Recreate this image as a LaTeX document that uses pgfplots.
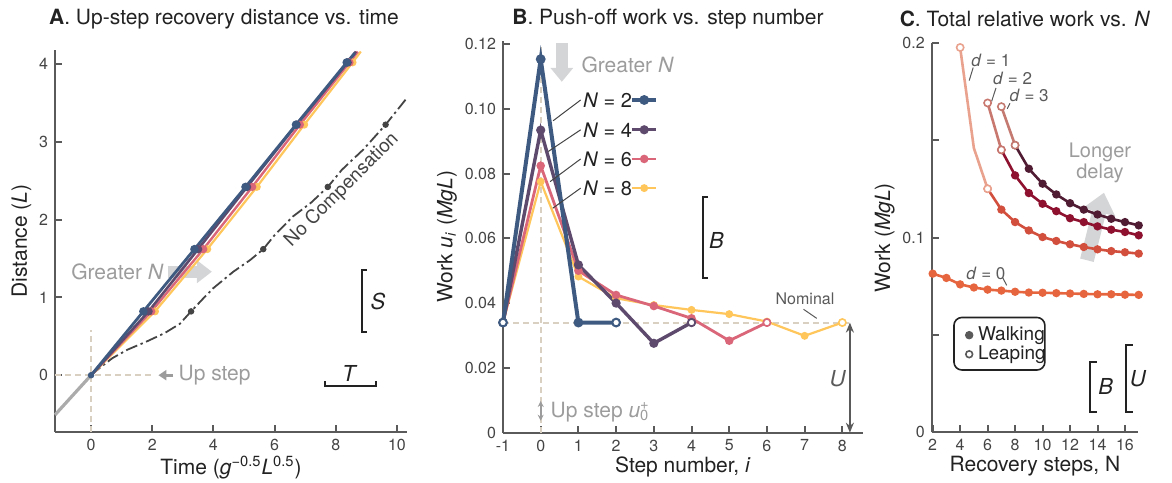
\documentclass[border=0pt]{standalone}
\usepackage{pgfplots}
\pgfplotsset{compat=1.18}
\usepackage{fontspec}
\setmainfont{TeX Gyre Heros}
\usetikzlibrary{arrows.meta}

\definecolor{axgray}{HTML}{5A5A5A}
\definecolor{tickgray}{HTML}{444444}
\definecolor{txt}{HTML}{222222}
\definecolor{anngray}{HTML}{9C9C9C}
\definecolor{arrgray}{HTML}{D4D5D7}
\definecolor{beige}{HTML}{D9D0C2}
\definecolor{lead}{HTML}{444444}
\definecolor{ctwo}{HTML}{3E5A80}
\definecolor{cfour}{HTML}{5E4A6D}
\definecolor{csix}{HTML}{D96779}
\definecolor{ceight}{HTML}{FEC65B}
\definecolor{nocomp}{HTML}{444444}
\definecolor{pre}{HTML}{ABABAB}
\definecolor{dzero}{HTML}{E6653F}
\definecolor{doneL}{HTML}{E9A28E}
\definecolor{doneW}{HTML}{D24E3D}
\definecolor{dtwoL}{HTML}{C9786F}
\definecolor{dtwoW}{HTML}{8E1230}
\definecolor{dthreeL}{HTML}{C47A70}
\definecolor{dthreeW}{HTML}{4F1C34}

\newcommand{\fsz}[1]{\fontsize{#1}{#1}\selectfont}

\pgfplotsset{
  rf/.style={
    scale only axis, anchor=south west,
    axis lines=left, axis line style={-, draw=axgray, line width=1pt},
    tick align=inside, major tick length=3.5pt,
    tick style={draw=axgray, line width=1pt},
    tick label style={font=\fsz{8}, text=tickgray},
    label style={font=\fsz{10.5}, text=txt},
    xlabel shift=-4pt, ylabel shift=-3pt,
    /pgf/number format/assume math mode=true,
    clip=false,
  },
  dot/.style={mark=*, mark size=1.4pt, mark options={solid}},
  open/.style={only marks, mark=*, mark size=1.8pt, mark options={fill=white, draw=#1, line width=0.8pt, solid}},
}

\begin{document}
\begin{tikzpicture}
\path[use as bounding box] (0,0) rectangle (586pt,241pt);

% ---------- A ----------
\begin{axis}[rf, at={(27.5pt,25pt)}, width=176pt, height=191pt,
  xmin=-1.18, xmax=10.33, ymin=-0.73, ymax=4.18,
  xtick={0,2,4,6,8,10}, ytick={0,1,2,3,4},
  xlabel={Time (\textit{g}\textsuperscript{−0.5}\textit{L}\textsuperscript{0.5})},
  ylabel={Distance (\textit{L})},
]
  \draw[beige, line width=1pt, dash pattern=on 3pt off 2pt] (axis cs:0,-0.73) -- (axis cs:0,0.58);
  \draw[beige, line width=1pt, dash pattern=on 3pt off 2pt] (axis cs:-1.18,0) -- (axis cs:2.06,0);
  \draw[anngray, line width=1.3pt, -{Triangle[length=4pt,width=5pt]}] (axis cs:2.68,0) -- (axis cs:2.2,0);
  \node[anchor=west, text=anngray, font=\fsz{10.5}, inner sep=1pt] at (axis cs:2.78,0) {Up step};
  \draw[arrgray, line width=6pt, -{Triangle[length=7.5pt,width=11pt]}] (axis cs:2.5,1.33) -- (axis cs:3.95,1.33);
  \node[anchor=east, text=anngray, font=\fsz{10.5}, inner sep=1pt] at (axis cs:2.45,1.33) {Greater \textit{N}};

  \addplot[pre, line width=1.6pt] coordinates {(-1.18,-0.51) (0,0)};
  \addplot[nocomp, line width=0.9pt, dash pattern=on 6pt off 1.8pt on 1.2pt off 1.8pt] coordinates {
    (0,0) (0.3,0.1) (0.7,0.22) (1.2,0.33) (1.8,0.43) (2.4,0.54) (2.9,0.66) (3.27,0.82)
    (3.7,1.0) (4.0,1.12) (4.65,1.33) (5.2,1.48) (5.63,1.62) (6.0,1.8) (6.6,2.04) (7.2,2.22)
    (7.74,2.42) (8.2,2.64) (8.9,2.9) (9.63,3.22) (10.3,3.55)};
  \addplot[only marks, nocomp, dot] coordinates {(3.27,0.82) (5.63,1.62) (7.74,2.42) (9.63,3.22)};
  \node[rotate=45, text=nocomp, font=\fsz{9.5}] at (axis cs:8.2,2.38) {No Compensation};

  \addplot[ceight, line width=1.1pt, dot, mark indices={2,3,4,5,6}] coordinates {
    (0,0) (2.09,0.82) (3.80,1.62) (5.42,2.42) (6.97,3.22) (8.55,4.02) (8.82,4.16)};
  \addplot[csix, line width=1.2pt, dot, mark indices={2,3,4,5,6}] coordinates {
    (0,0) (1.97,0.82) (3.67,1.62) (5.27,2.42) (6.83,3.22) (8.45,4.02) (8.72,4.16)};
  \addplot[cfour, line width=1.3pt, dot, mark indices={2,3,4,5,6}] coordinates {
    (0,0) (1.88,0.82) (3.50,1.62) (5.10,2.42) (6.72,3.22) (8.39,4.02) (8.66,4.16)};
  \addplot[ctwo, line width=1.4pt, dot, mark indices={2,3,4,5,6}] coordinates {
    (0,0) (1.71,0.82) (3.38,1.62) (5.05,2.42) (6.70,3.22) (8.36,4.02) (8.62,4.14)};
  \addplot[only marks, ctwo, dot] coordinates {(0,0)};

  \draw[txt, line width=1pt] (axis cs:9.02,1.35) -- (axis cs:8.85,1.35) -- (axis cs:8.85,0.55) -- (axis cs:9.02,0.55);
  \node[font=\fsz{11}, text=txt] at (axis cs:9.38,0.95) {\textit{S}};
  \draw[txt, line width=1pt] (axis cs:7.65,-0.08) -- (axis cs:7.65,-0.14) -- (axis cs:9.31,-0.14) -- (axis cs:9.31,-0.08);
  \node[font=\fsz{11}, text=txt] at (axis cs:8.46,0.02) {\textit{T}};
\end{axis}

% ---------- B ----------
\begin{axis}[rf, at={(251.5pt,24.65pt)}, width=179.85pt, height=196pt,
  xmin=-1, xmax=8.54, ymin=0, ymax=0.121,
  xtick={-1,0,1,2,3,4,5,6,7,8}, xticklabels={-1,0,1,2,3,4,5,6,7,8},
  ytick={0,0.02,0.04,0.06,0.08,0.10,0.12}, yticklabels={0,0.02,0.04,0.06,0.08,0.10,0.12},
  xlabel={Step number, \textit{i}},
  ylabel={Work \textit{u}\textsubscript{\textit{i}} (\textit{MgL})},
]
  \draw[beige, line width=1pt, dash pattern=on 3pt off 2pt] (axis cs:0,0) -- (axis cs:0,0.1197);
  \draw[beige, line width=1pt, dash pattern=on 3pt off 2pt] (axis cs:-1,0.034) -- (axis cs:8.28,0.034);
  \draw[arrgray, line width=6pt, -{Triangle[length=7pt,width=11pt]}] (axis cs:0.56,0.1202) -- (axis cs:0.56,0.1083);
  \node[anchor=west, text=anngray, font=\fsz{10.5}, inner sep=1pt] at (axis cs:1.02,0.1135) {Greater \textit{N}};

  \addplot[ceight, line width=1.1pt, dot] coordinates {
    (-1,0.034) (0,0.0775) (1,0.0482) (2,0.0415) (3,0.0394) (4,0.0379) (5,0.0366) (6,0.0343) (7,0.0299) (8,0.034)};
  \addplot[csix, line width=1.4pt, dot] coordinates {
    (-1,0.034) (0,0.0824) (1,0.050) (2,0.0425) (3,0.0391) (4,0.0353) (5,0.0284) (6,0.034)};
  \addplot[cfour, line width=1.7pt, dot] coordinates {
    (-1,0.034) (0,0.0934) (1,0.0518) (2,0.040) (3,0.0276) (4,0.034)};
  \addplot[ctwo, line width=2pt, dot] coordinates {
    (-1,0.034) (0,0.1153) (1,0.034) (2,0.034)};
  \addplot[open=ceight] coordinates {(8,0.034)};
  \addplot[open=csix] coordinates {(6,0.034)};
  \addplot[open=cfour] coordinates {(4,0.034)};
  \addplot[open=ctwo] coordinates {(2,0.034) (-1,0.034)};

  % legend
  \addplot[ctwo, line width=2pt, dot, mark indices={2}] coordinates {(2.42,0.1027) (2.745,0.1027) (3.07,0.1027)};
  \addplot[cfour, line width=1.7pt, dot, mark indices={2}] coordinates {(2.42,0.0935) (2.745,0.0935) (3.07,0.0935)};
  \addplot[csix, line width=1.4pt, dot, mark indices={2}] coordinates {(2.42,0.0845) (2.745,0.0845) (3.07,0.0845)};
  \addplot[ceight, line width=1.1pt, dot, mark indices={2}] coordinates {(2.42,0.0755) (2.745,0.0755) (3.07,0.0755)};
  \node[anchor=west, font=\fsz{10}, text=txt, inner sep=1pt] at (axis cs:1.06,0.1027) {\textit{N} = 2};
  \node[anchor=west, font=\fsz{10}, text=txt, inner sep=1pt] at (axis cs:1.06,0.0935) {\textit{N} = 4};
  \node[anchor=west, font=\fsz{10}, text=txt, inner sep=1pt] at (axis cs:1.06,0.0845) {\textit{N} = 6};
  \node[anchor=west, font=\fsz{10}, text=txt, inner sep=1pt] at (axis cs:1.06,0.0755) {\textit{N} = 8};
  \draw[lead, line width=0.5pt] (axis cs:0.33,0.0963) -- (axis cs:1.06,0.1027);
  \draw[lead, line width=0.5pt] (axis cs:0.20,0.0868) -- (axis cs:1.06,0.0935);
  \draw[lead, line width=0.5pt] (axis cs:0.25,0.0775) -- (axis cs:1.06,0.0845);
  \draw[lead, line width=0.5pt] (axis cs:0.32,0.0693) -- (axis cs:1.06,0.0755);

  \node[text=axgray, font=\fsz{8}] at (axis cs:7.01,0.0412) {Nominal};
  \draw[axgray, line width=0.5pt] (axis cs:6.97,0.0381) -- (axis cs:7.32,0.0353);

  \draw[txt, line width=1pt] (axis cs:4.44,0.0727) -- (axis cs:4.31,0.0727) -- (axis cs:4.31,0.0477) -- (axis cs:4.44,0.0477);
  \node[font=\fsz{11}, text=txt] at (axis cs:4.66,0.0594) {\textit{B}};

  \draw[axgray, line width=1pt, {Stealth[length=5pt,width=4pt]}-{Stealth[length=5pt,width=4pt]}] (axis cs:8.2,0.034) -- (axis cs:8.2,0);
  \node[font=\fsz{11}, text=axgray] at (axis cs:7.88,0.0168) {\textit{U}};

  \draw[anngray, line width=1pt, {Stealth[length=3pt,width=3pt]}-{Stealth[length=3pt,width=3pt]}] (axis cs:0,0.0098) -- (axis cs:0,0.0037);
  \node[anchor=west, text=anngray, font=\fsz{10.5}, inner sep=1pt] at (axis cs:0.2,0.0064) {Up step \textit{u}\rlap{\textsuperscript{+}}\textsubscript{0}};
\end{axis}

% ---------- C ----------
\begin{axis}[rf, at={(465.85pt,24.85pt)}, width=103.3pt, height=194.65pt,
  xmin=1.93, xmax=16.97, ymin=0, ymax=0.2,
  xtick={2,4,6,8,10,12,14,16},
  ytick={0,0.05,0.1,0.15,0.2}, yticklabels={0,,0.1,,0.2},
  xlabel={Recovery steps, N},
  ylabel={Work (\textit{MgL})},
]
  \draw[arrgray, line width=7pt, -{Triangle[length=10pt,width=16pt]}] (axis cs:13.23,0.0884) -- (axis cs:14.47,0.1231);
  \node[align=center, text=anngray, font=\fontsize{10}{9}\selectfont] at (axis cs:14.18,0.1386) {Longer\\delay};

  \addplot[dzero, line width=1.3pt, dot] coordinates {
    (2,0.0815) (3,0.0793) (4,0.0760) (5,0.0744) (6,0.0733) (7,0.0728) (8,0.0722) (9,0.0718)
    (10,0.0717) (11,0.0715) (12,0.0713) (13,0.0711) (14,0.0709) (15,0.0709) (16,0.0707) (17,0.0706)};
  \addplot[doneW, line width=1.3pt, dot] coordinates {
    (6,0.1251) (7,0.1144) (8,0.108) (9,0.1037) (10,0.1003) (11,0.0983) (12,0.0966)
    (13,0.0952) (14,0.094) (15,0.0931) (16,0.0925) (17,0.0918)};
  \addplot[dtwoW, line width=1.3pt, dot] coordinates {
    (7,0.1451) (8,0.132) (9,0.1229) (10,0.1174) (11,0.1136) (12,0.110) (13,0.108)
    (14,0.1058) (15,0.1041) (16,0.1029) (17,0.1012)};
  \addplot[dthreeW, line width=1.3pt, dot] coordinates {
    (8,0.1475) (9,0.1354) (10,0.1277) (11,0.1222) (12,0.1177) (13,0.1144) (14,0.1119)
    (15,0.1097) (16,0.108) (17,0.1063)};
  \addplot[doneL, line width=1.3pt] coordinates {(4,0.1977) (5,0.146) (6,0.1251)};
  \addplot[dtwoL, line width=1.3pt] coordinates {(6,0.1692) (7,0.1451)};
  \addplot[dthreeL, line width=1.3pt] coordinates {(7,0.1673) (8,0.1475)};
  \addplot[open=doneL] coordinates {(4,0.1977) (6,0.1251)};
  \addplot[open=dtwoL] coordinates {(6,0.1692) (7,0.1451)};
  \addplot[open=dthreeL] coordinates {(7,0.1673) (8,0.1475)};

  \node[anchor=west, text=axgray, font=\fsz{8.5}, inner sep=0.5pt] at (axis cs:4.71,0.1913) {\textit{d} = 1};
  \draw[axgray, line width=0.5pt] (axis cs:4.66,0.1807) -- (axis cs:4.95,0.1874);
  \node[anchor=west, text=axgray, font=\fsz{8.5}, inner sep=0.5pt] at (axis cs:6.29,0.1818) {\textit{d} = 2};
  \draw[axgray, line width=0.5pt] (axis cs:6.29,0.170) -- (axis cs:6.61,0.1769);
  \node[anchor=west, text=axgray, font=\fsz{8.5}, inner sep=0.5pt] at (axis cs:7.5,0.173) {\textit{d} = 3};
  \draw[axgray, line width=0.5pt] (axis cs:7.43,0.1662) -- (axis cs:7.63,0.169);
  \node[anchor=west, text=axgray, font=\fsz{8.5}, inner sep=0.5pt] at (axis cs:4.35,0.0815) {\textit{d} = 0};
  \draw[axgray, line width=0.5pt] (axis cs:7.09,0.0795) -- (axis cs:7.39,0.0755);

  % walking / leaping key
  \draw[txt, line width=0.8pt, rounded corners=4pt] (axis cs:3.55,0.059) rectangle (axis cs:10.17,0.032);
  \addplot[only marks, mark=*, mark size=1.9pt, axgray] coordinates {(4.66,0.0499)};
  \addplot[open=axgray, mark size=1.7pt] coordinates {(4.66,0.0401)};
  \node[anchor=west, font=\fsz{9.5}, text=txt, inner sep=0.5pt] at (axis cs:5.2,0.0499) {Walking};
  \node[anchor=west, font=\fsz{9.5}, text=txt, inner sep=0.5pt] at (axis cs:5.2,0.0401) {Leaping};

  \draw[txt, line width=1pt] (axis cs:13.96,0.0362) -- (axis cs:13.46,0.0362) -- (axis cs:13.46,0.0106) -- (axis cs:13.96,0.0106);
  \node[font=\fsz{11}, text=txt] at (axis cs:14.6,0.0234) {\textit{B}};
  \draw[txt, line width=1pt] (axis cs:16.57,0.0448) -- (axis cs:16.07,0.0448) -- (axis cs:16.07,0.0106) -- (axis cs:16.57,0.0106);
  \node[font=\fsz{11}, text=txt] at (axis cs:16.95,0.0277) {\textit{U}};
\end{axis}

% titles
\node[font=\fsz{10.5}, text=txt] at (112pt,231.5pt) {\textbf{A}. Up-step recovery distance vs. time};
\node[font=\fsz{10.5}, text=txt] at (334pt,231.5pt) {\textbf{B}. Push-off work vs. step number};
\node[font=\fsz{10.5}, text=txt] at (512.5pt,231.5pt) {\textbf{C}. Total relative work vs. \textit{N}};
\end{tikzpicture}
\end{document}
